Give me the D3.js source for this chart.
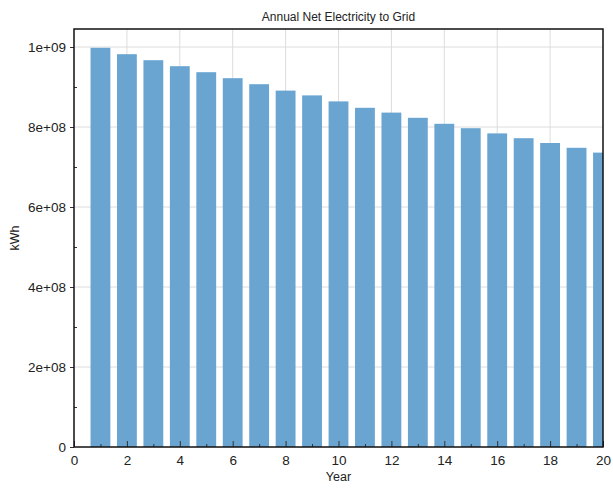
<!DOCTYPE html>
<html>
<head>
<meta charset="utf-8">
<script src="https://cdn.jsdelivr.net/npm/d3@7"></script>
<style>
    body { margin: 0; background: #fff; }
    text { font-family: "Liberation Sans", Arial, sans-serif; fill: #222; }
</style>
</head>
<body>
<div id="chart"></div>
<script>
// Values
const years = d3.range(1, 21);
const netToGrid = [
    0.998e9, 0.982e9, 0.967e9, 0.952e9, 0.937e9,
    0.922e9, 0.907e9, 0.891e9, 0.879e9, 0.864e9,
    0.848e9, 0.836e9, 0.823e9, 0.808e9, 0.797e9,
    0.784e9, 0.772e9, 0.760e9, 0.748e9, 0.736e9
];
const xTicks = [0, 2, 4, 6, 8, 10, 12, 14, 16, 18, 20];
const yTicks = [0, 2e8, 4e8, 6e8, 8e8, 1e9];
const yTickLabels = ["0", "2e+08", "4e+08", "6e+08", "8e+08", "1e+09"];

const data = years.map((y, i) => ({ year: y, value: netToGrid[i] }));

const W = 613, H = 488;
const margin = { left: 74, right: 10, top: 29, bottom: 41 };
const width = W - margin.left - margin.right;
const height = H - margin.top - margin.bottom;

const svg = d3.select("#chart").append("svg")
    .attr("width", W)
    .attr("height", H);

const g = svg.append("g")
    .attr("transform", `translate(${margin.left}, ${margin.top})`);

const xScale = d3.scaleLinear().domain([0, 20]).range([0, width]);
const yScale = d3.scaleLinear().domain([0, 1.045e9]).range([height, 0]);

svg.append("defs").append("clipPath").attr("id", "plotClip")
    .append("rect").attr("width", width).attr("height", height);

// grid
g.append("g").selectAll("line").data(xTicks.slice(1, -1)).join("line")
    .attr("x1", d => xScale(d)).attr("x2", d => xScale(d))
    .attr("y1", 0).attr("y2", height)
    .attr("stroke", "#dcdcdc").attr("stroke-width", 1);
g.append("g").selectAll("line").data(yTicks.slice(1)).join("line")
    .attr("x1", 0).attr("x2", width)
    .attr("y1", d => yScale(d)).attr("y2", d => yScale(d))
    .attr("stroke", "#dcdcdc").attr("stroke-width", 1);

// bars
const barW = 0.75;
g.append("g").attr("clip-path", "url(#plotClip)")
    .selectAll("rect").data(data).join("rect")
    .attr("x", d => xScale(d.year - barW / 2))
    .attr("width", xScale(barW) - xScale(0))
    .attr("y", d => yScale(d.value))
    .attr("height", d => yScale(0) - yScale(d.value))
    .attr("fill", "#69a5d0");

// axes
const xAxis = d3.axisBottom(xScale).tickValues(xTicks).tickSize(-6).tickPadding(8);
const xMinor = d3.axisBottom(xScale).tickValues(d3.range(1, 20, 2)).tickSize(-3).tickFormat("");
const yAxis = d3.axisLeft(yScale).tickValues(yTicks).tickSize(4).tickPadding(4)
    .tickFormat((d, i) => yTickLabels[i]);
const yMinor = d3.axisLeft(yScale).tickValues(d3.range(1e8, 1.01e9, 2e8)).tickSize(-3).tickFormat("");

function styleAxis(sel) {
    sel.select(".domain").remove();
    sel.selectAll("line").attr("stroke", "#333");
    sel.selectAll("text").attr("font-size", 13.5).attr("fill", "#222")
        .attr("font-family", "'Liberation Sans', Arial, sans-serif");
}

g.append("g").attr("transform", `translate(0, ${height})`).call(xAxis).call(styleAxis);
g.append("g").attr("transform", `translate(0, ${height})`).call(xMinor).call(styleAxis);
g.append("g").call(yAxis).call(styleAxis);
g.append("g").call(yMinor).call(styleAxis);

// frame
g.append("rect")
    .attr("width", width).attr("height", height)
    .attr("fill", "none").attr("stroke", "#111").attr("stroke-width", 1.5);

// labels
svg.append("text")
    .attr("x", margin.left + width / 2).attr("y", 21)
    .attr("text-anchor", "middle").attr("font-size", 12)
    .text("Annual Net Electricity to Grid");
svg.append("text")
    .attr("x", margin.left + width / 2).attr("y", 481)
    .attr("text-anchor", "middle").attr("font-size", 12.5)
    .text("Year");
svg.append("text")
    .attr("transform", `translate(19, ${margin.top + height / 2}) rotate(-90)`)
    .attr("text-anchor", "middle").attr("font-size", 12.5)
    .text("kWh");
</script>
</body>
</html>
